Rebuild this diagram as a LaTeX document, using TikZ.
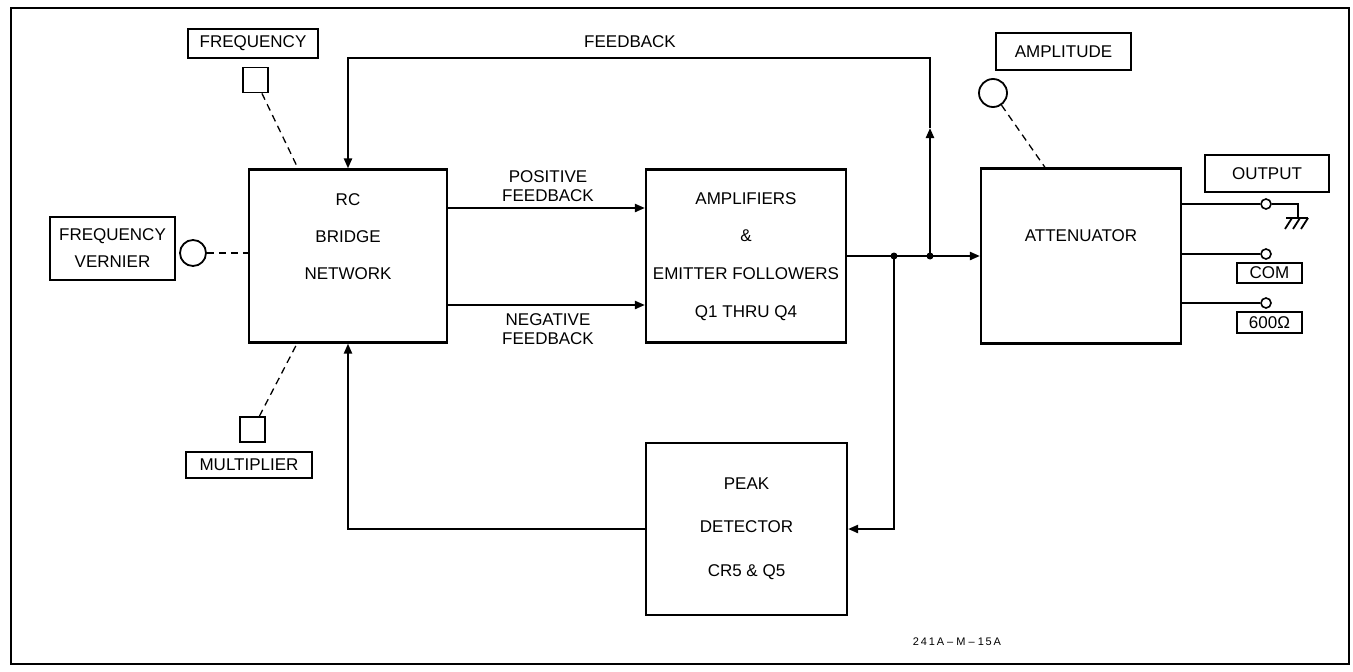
\documentclass[tikz,border=0pt]{standalone}
\usepackage{fontspec}
\setmainfont{Liberation Sans}
\usetikzlibrary{arrows.meta}
\begin{document}
\begin{tikzpicture}[x=1pt,y=-1pt,
  line width=2.2pt,
  blk/.style={draw,minimum width=198pt,minimum height=173pt,inner sep=0pt},
  lbl/.style={draw,line width=1.7pt,inner sep=0pt,font=\fontsize{17}{27}\selectfont,align=center},
  knobsq/.style={draw,line width=1.8pt,minimum size=25pt,inner sep=0pt},
  knobc/.style={draw,circle,line width=1.8pt,inner sep=0pt},
  txt/.style={font=\fontsize{17}{20}\selectfont,align=center,inner sep=0pt},
  dsh/.style={line width=1.3pt,dash pattern=on 7pt off 5pt},
  arr/.style={-{Triangle[length=10pt,width=8pt]}},
  dot/.style={circle,fill,minimum size=7pt,inner sep=0pt},
  term/.style={circle,draw,line width=1.6pt,minimum size=10pt,inner sep=0pt,fill=white}]
\useasboundingbox (0,0) rectangle (1353,672);
\draw[line width=2.4pt] (11,8) rectangle (1349,664);

% main blocks
\node[blk] (rc) at (348,256) {};
\node[txt,font=\fontsize{17}{37}\selectfont] (rct) at (348,237) {RC\\BRIDGE\\NETWORK};
\node[blk,minimum width=200pt] (amp) at (746,256) {};
\node[txt,font=\fontsize{17}{37.7}\selectfont] (ampt) at (746,256.5) {AMPLIFIERS\\\&\\EMITTER FOLLOWERS\\Q1 THRU Q4};
\node[blk,minimum width=200pt,minimum height=175pt] (att) at (1081,256) {};
\node[txt] (attt) at (1081,236) {ATTENUATOR};
\node[blk,minimum width=201pt,minimum height=172pt] (peak) at (746.5,529) {};
\node[txt,font=\fontsize{17}{43.5}\selectfont] (peakt) at (746.5,528.5) {PEAK\\DETECTOR\\CR5 \& Q5};

% controls
\node[lbl,minimum width=130pt,minimum height=29pt] (flbl) at (253,43.5) {FREQUENCY};
\node[knobsq] (fsq) at (255.5,80) {};
\node[lbl,minimum width=125pt,minimum height=63pt] (vlbl) at (112.5,248.5) {FREQUENCY\\VERNIER};
\node[knobc,minimum size=26pt] (fv) at (193,253) {};
\node[knobsq] (msq) at (252.5,429.5) {};
\node[lbl,minimum width=126pt,minimum height=26pt] (mlbl) at (249,465) {MULTIPLIER};
\node[lbl,minimum width=135pt,minimum height=37pt] (albl) at (1063.5,51.5) {AMPLITUDE};
\node[knobc,minimum size=28pt] (ak) at (993,93) {};

\draw[dsh] (fsq) -- ([xshift=-50pt]rc.north);
\draw[dsh] (fv) -- (rc.west |- fv.east);
\draw[dsh] (msq) -- ([xshift=-51pt]rc.south);
\draw[dsh] (ak) -- ([xshift=-36pt]att.north);

% forward paths
\draw[arr] ([yshift=48pt]rc.east) -- ([yshift=48pt]amp.west);
\draw[arr] ([yshift=-49pt]rc.east) -- ([yshift=-49pt]amp.west);
\node[txt,font=\fontsize{17}{19}\selectfont] (pfb) at (548,186.5) {POSITIVE\\FEEDBACK};
\node[txt,font=\fontsize{17}{19}\selectfont] (nfb) at (548,329.5) {NEGATIVE\\FEEDBACK};

\node[dot] (j1) at (894,256) {};
\node[dot] (j2) at (930,256) {};
\draw[arr] (amp.east) -- (att.west);

% feedback loop
\coordinate (fbm) at (930,128);
\coordinate (fbt) at (930,58);
\draw[arr] (j2.center) -- (fbm);
\draw[arr] (fbm) -- (fbt) -| (rc.north);
\node[txt] (fbl) at (630,42) {FEEDBACK};

% peak detector loop
\draw[arr] (j1.center) |- (peak.east);
\draw[arr] (peak.west) -| (rc.south);

% outputs
\node[lbl,minimum width=124pt,minimum height=37pt] (olbl) at (1267,173.5) {OUTPUT};
\node[term] (t1) at (1266,204) {};
\node[term] (t2) at (1266,254) {};
\node[term] (t3) at (1266,303) {};
\draw (att.east |- t1) -- (t1.west);
\draw (att.east |- t2) -- (t2.west);
\draw (att.east |- t3) -- (t3.west);
\coordinate (g0) at (1298,204);
\coordinate (g1) at (1298,218);
\draw[line width=1.8pt] (t1.east) -- (g0) -- (g1);
\draw[line width=1.8pt] (1286,218) -- (1308,218);
\draw[line width=1.8pt] (1292,218) -- (1285,229);
\draw[line width=1.8pt] (1300,218) -- (1293,229);
\draw[line width=1.8pt] (1308,218) -- (1301,229);
\node[lbl,minimum width=65pt,minimum height=20pt] (com) at (1269.5,273) {COM};
\node[lbl,minimum width=65pt,minimum height=21pt] (ohm) at (1269.5,322.5) {600Ω};

\node[txt,font=\fontsize{11}{13}\selectfont] (ref) at (957,642) {2\,4\,1\,A -- M -- 1\,5\,A};
\end{tikzpicture}
\end{document}
